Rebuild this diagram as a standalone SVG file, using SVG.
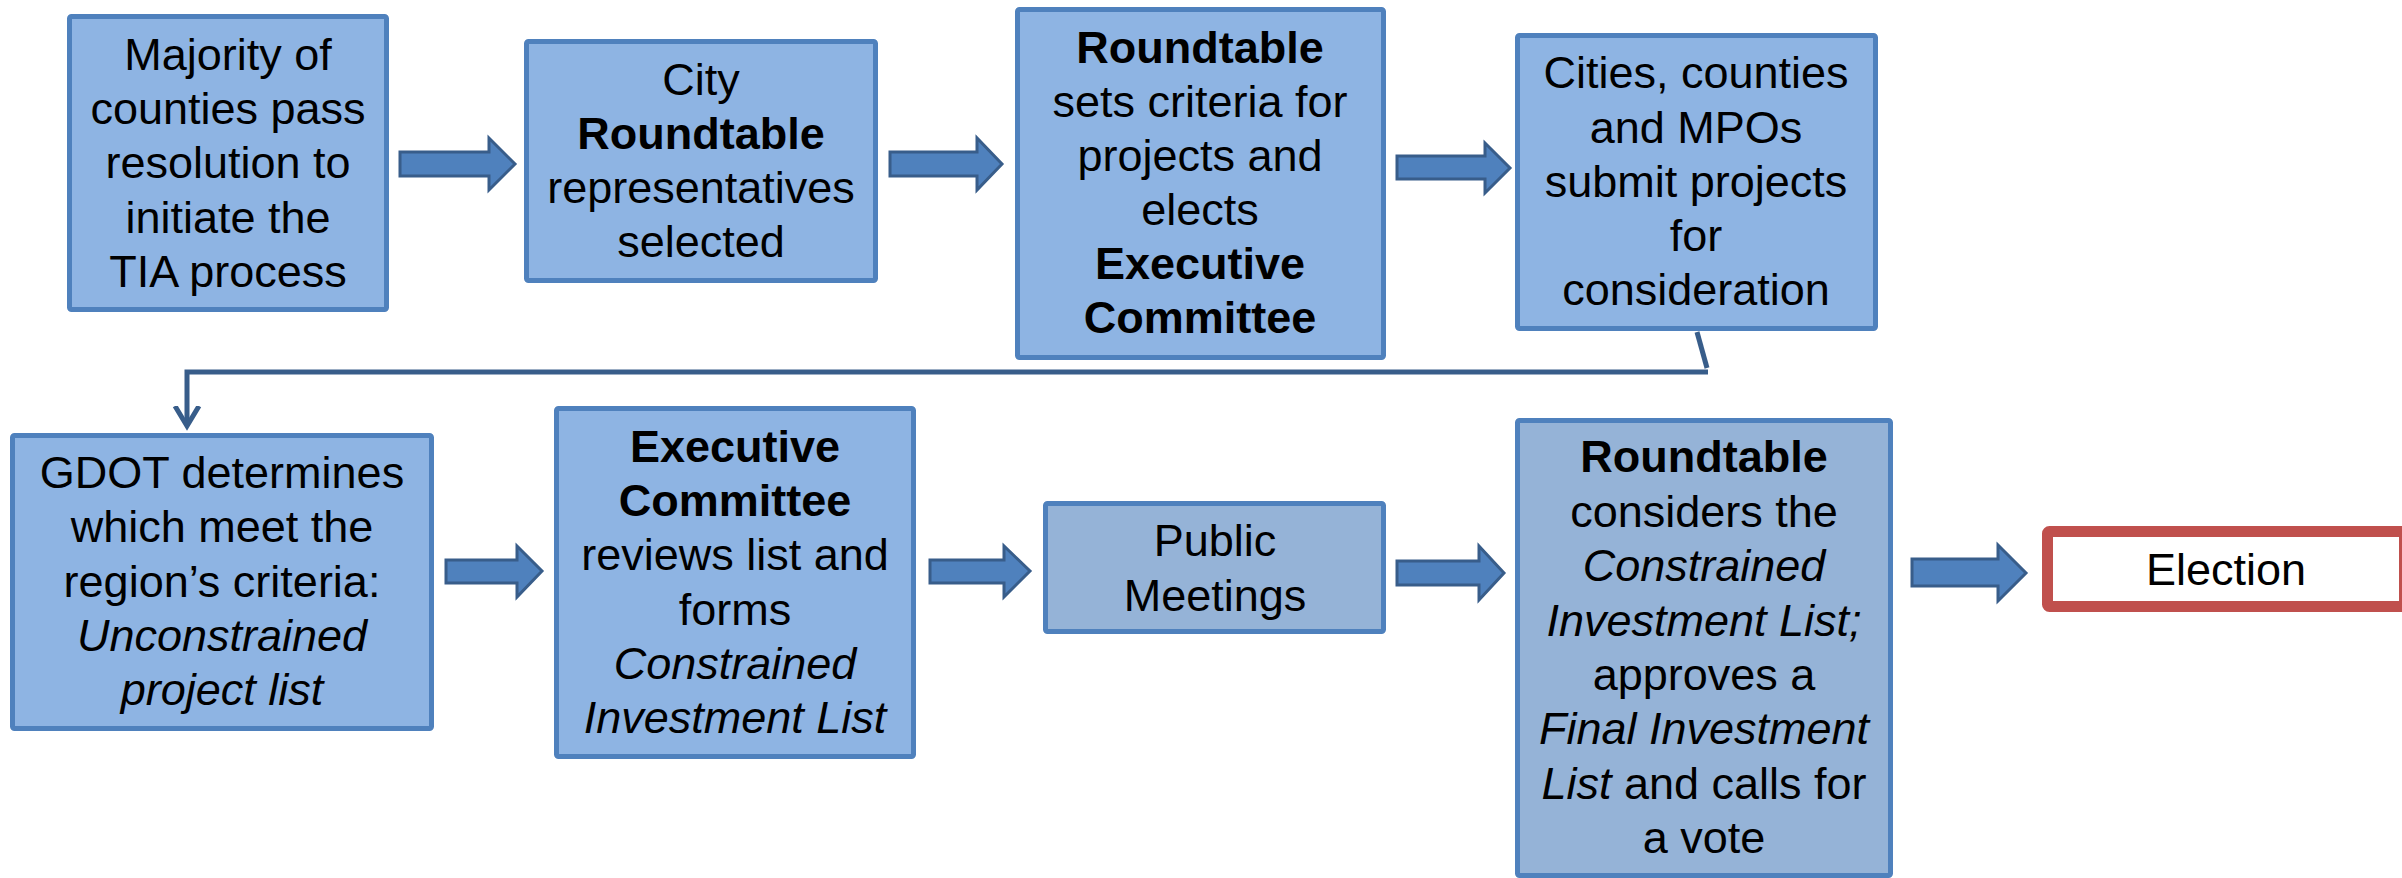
<svg xmlns="http://www.w3.org/2000/svg" width="2402" height="878" viewBox="0 0 2402 878">
<style>
  .box { fill: #8EB4E3; stroke: #4F81BD; stroke-width: 5; }
  .box2 { fill: #95B3D7; stroke: #4F81BD; stroke-width: 5; }
  .red { fill: #FFFFFF; stroke: #C0504D; stroke-width: 11; }
  .arrow { fill: #4F81BD; stroke: #385D8A; stroke-width: 3; stroke-linejoin: miter; }
  .conn { fill: none; stroke: #385D8A; stroke-width: 5; }
  text { font-family: "Liberation Sans", Arial, sans-serif; font-size: 45px; fill: #000000; text-anchor: middle; }
  .b { font-weight: bold; }
  .i { font-style: italic; }
</style>
<defs>
  <marker id="openArrow" markerUnits="userSpaceOnUse" markerWidth="40" markerHeight="40" refX="20" refY="20" orient="auto" viewBox="0 0 40 40">
    <path d="M0,8 L20,20 L0,32" fill="none" stroke="#385D8A" stroke-width="5"/>
  </marker>
</defs>

<g id="connectors">
  <polygon class="arrow" points="400,152 489,152 489,138 515,164 489,190 489,176 400,176"/>
  <polygon class="arrow" points="890,152 977,152 977,138 1002,164 977,190 977,176 890,176"/>
  <polygon class="arrow" points="1397,156 1485,156 1485,143 1510,168 1485,193 1485,179 1397,179"/>
  <polygon class="arrow" points="446,560 517,560 517,546 542,571 517,597 517,583 446,583"/>
  <polygon class="arrow" points="930,560 1004,560 1004,546 1030,571 1004,597 1004,583 930,583"/>
  <polygon class="arrow" points="1397,561 1479,561 1479,546 1504,573 1479,600 1479,585 1397,585"/>
  <polygon class="arrow" points="1912,559 1998,559 1998,545 2026,573 1998,601 1998,586 1912,586"/>
  <polyline class="conn" points="1697,332 1707,368"/>
  <polyline class="conn" points="1708,372 187,372 187,426" marker-end="url(#openArrow)"/>
</g>

<g id="node1">
  <rect class="box" x="69.5" y="16.5" width="317" height="293" rx="2"/>
  <text x="228" y="70">Majority of</text>
  <text x="228" y="124">counties pass</text>
  <text x="228" y="178">resolution to</text>
  <text x="228" y="233">initiate the</text>
  <text x="228" y="287">TIA process</text>
</g>

<g id="node2">
  <rect class="box" x="526.5" y="41.5" width="349" height="239" rx="2"/>
  <text x="701" y="95">City</text>
  <text x="701" y="149" class="b">Roundtable</text>
  <text x="701" y="203">representatives</text>
  <text x="701" y="257">selected</text>
</g>

<g id="node3">
  <rect class="box" x="1017.5" y="9.5" width="366" height="348" rx="2"/>
  <text x="1200" y="63" class="b">Roundtable</text>
  <text x="1200" y="117">sets criteria for</text>
  <text x="1200" y="171">projects and</text>
  <text x="1200" y="225">elects</text>
  <text x="1200" y="279" class="b">Executive</text>
  <text x="1200" y="333" class="b">Committee</text>
</g>

<g id="node4">
  <rect class="box" x="1517.5" y="35.5" width="358" height="293" rx="2"/>
  <text x="1696" y="88">Cities, counties</text>
  <text x="1696" y="143">and MPOs</text>
  <text x="1696" y="197">submit projects</text>
  <text x="1696" y="251">for</text>
  <text x="1696" y="305">consideration</text>
</g>

<g id="node5">
  <rect class="box" x="12.5" y="435.5" width="419" height="293" rx="2"/>
  <text x="222" y="488">GDOT determines</text>
  <text x="222" y="542">which meet the</text>
  <text x="222" y="597">region’s criteria:</text>
  <text x="222" y="651" class="i">Unconstrained</text>
  <text x="222" y="705" class="i">project list</text>
</g>

<g id="node6">
  <rect class="box" x="556.5" y="408.5" width="357" height="348" rx="2"/>
  <text x="735" y="462" class="b">Executive</text>
  <text x="735" y="516" class="b">Committee</text>
  <text x="735" y="570">reviews list and</text>
  <text x="735" y="625">forms</text>
  <text x="735" y="679" class="i">Constrained</text>
  <text x="735" y="733" class="i">Investment List</text>
</g>

<g id="node7">
  <rect class="box2" x="1045.5" y="503.5" width="338" height="128" rx="2"/>
  <text x="1215" y="556">Public</text>
  <text x="1215" y="611">Meetings</text>
</g>

<g id="node8">
  <rect class="box2" x="1517.5" y="420.5" width="373" height="455" rx="2"/>
  <text x="1704" y="472" class="b">Roundtable</text>
  <text x="1704" y="527">considers the</text>
  <text x="1704" y="581" class="i">Constrained</text>
  <text x="1704" y="636" class="i">Investment List;</text>
  <text x="1704" y="690">approves a</text>
  <text x="1704" y="744" class="i">Final Investment</text>
  <text x="1704" y="799"><tspan class="i">List</tspan> and calls for</text>
  <text x="1704" y="853">a vote</text>
</g>

<g id="node9">
  <rect class="red" x="2047.5" y="531.5" width="357" height="75" rx="2"/>
  <text x="2226" y="585">Election</text>
</g>
</svg>
